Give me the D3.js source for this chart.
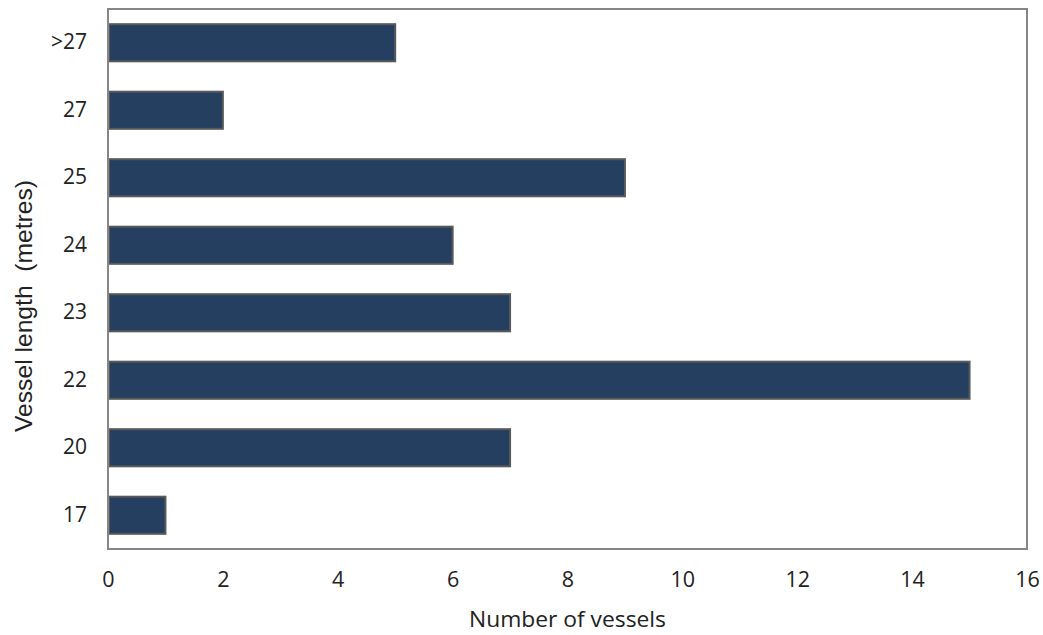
<!DOCTYPE html>
<html><head><meta charset="utf-8">
<script src="https://cdn.jsdelivr.net/npm/d3@7"></script>
<style>body{margin:0;background:#fff}svg{display:block}</style>
</head><body>
<script>
const categories = [">27","27","25","24","23","22","20","17"];
const values = [5,2,9,6,7,15,7,1];
const xTicks = [0,2,4,6,8,10,12,14,16];

const W=1043,H=635;
const m={left:108,top:9,right:1027,bottom:549};
const svg=d3.select("body").append("svg").attr("width",W).attr("height",H);
const x=d3.scaleLinear().domain([0,16]).range([m.left,m.right]);
const y=d3.scaleBand().domain(categories).range([m.top,m.bottom]).paddingInner(0.45).paddingOuter(0.225);

svg.append("g").selectAll("rect").data(values).join("rect")
  .attr("x",x(0)+1).attr("y",(d,i)=>y(categories[i]))
  .attr("width",d=>x(d)-x(0)-1).attr("height",y.bandwidth())
  .attr("fill","#243F60").attr("stroke","#595959").attr("stroke-width",2);

svg.append("rect").attr("x",m.left).attr("y",m.top).attr("width",m.right-m.left).attr("height",m.bottom-m.top)
  .attr("fill","none").attr("stroke","#868686").attr("stroke-width",2);

const font="'Open Sans', 'Liberation Sans', sans-serif";
const xa=svg.append("g").attr("transform",`translate(0,${m.bottom})`)
  .call(d3.axisBottom(x).tickValues(xTicks).tickSize(0).tickPadding(23));
xa.select(".domain").remove();
xa.selectAll("text").attr("font-family",font).attr("font-size",21.5).attr("fill","#222");

const ya=svg.append("g").attr("transform",`translate(${m.left},0)`)
  .call(d3.axisLeft(y).tickSize(0).tickPadding(21));
ya.select(".domain").remove();
ya.selectAll("text").attr("font-family",font).attr("font-size",21).attr("fill","#222");

svg.append("text").attr("x",(m.left+m.right)/2).attr("y",627).attr("text-anchor","middle")
  .attr("font-family",font).attr("font-size",21.5).attr("fill","#222")
  .attr("textLength",197).attr("lengthAdjust","spacingAndGlyphs").text("Number of vessels");
svg.append("text").attr("transform",`translate(32,306) rotate(-90)`).attr("text-anchor","middle")
  .attr("font-family","'Liberation Sans', Arial, sans-serif").attr("font-size",24).attr("fill","#222")
  .attr("textLength",252).attr("lengthAdjust","spacingAndGlyphs")
  .attr("xml:space","preserve").text("Vessel length  (metres)");
</script>
</body></html>
